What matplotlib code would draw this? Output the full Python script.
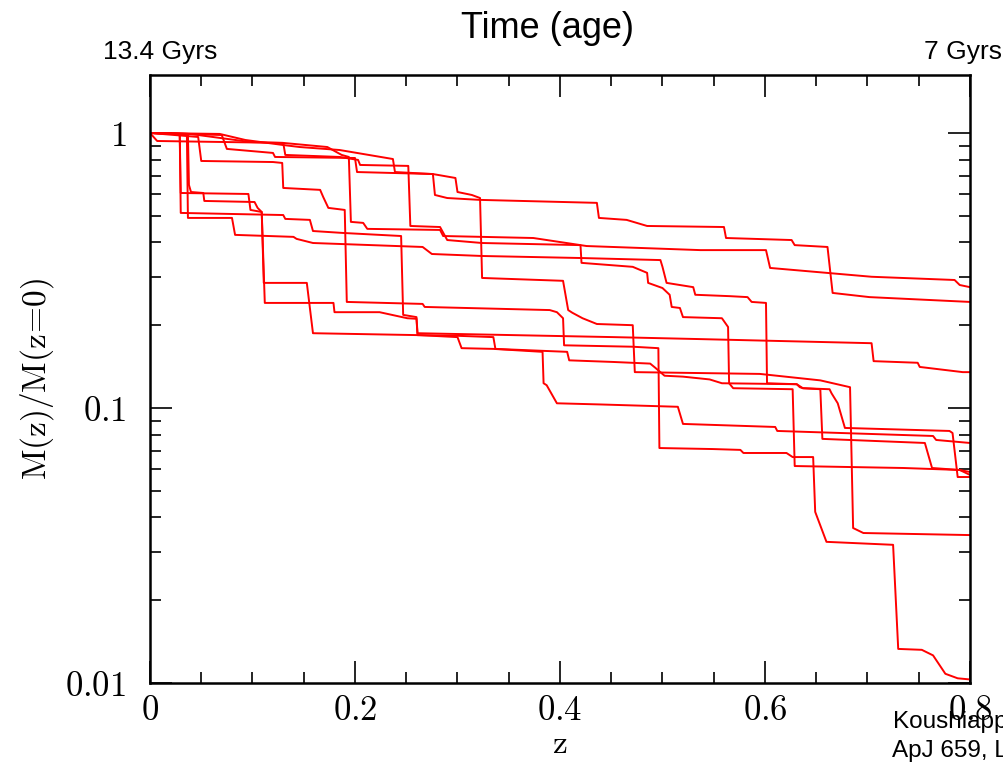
import matplotlib
matplotlib.use('Agg')
import matplotlib.pyplot as plt
from matplotlib.ticker import MultipleLocator, LogLocator, NullFormatter

plt.rcParams['mathtext.fontset'] = 'cm'

# mass accretion histories (z, M(z)/M(z=0))
z_a = [0, 0.007, 0.130, 0.173, 0.187, 0.194, 0.196, 0.208, 0.212, 0.283, 0.286, 0.374, 0.426,
       0.537, 0.601, 0.605, 0.704, 0.785, 0.790, 0.800]
m_a = [1.0, 0.935, 0.920, 0.889, 0.832, 0.818, 0.475, 0.471, 0.448, 0.444, 0.422, 0.415, 0.388,
       0.375, 0.375, 0.323, 0.300, 0.292, 0.280, 0.275]

z_b = [0, 0.068, 0.093, 0.130, 0.146, 0.185, 0.237, 0.239, 0.276, 0.278, 0.290, 0.322, 0.436,
       0.438, 0.465, 0.485, 0.560, 0.562, 0.626, 0.629, 0.661, 0.666, 0.702, 0.800]
m_b = [1.0, 0.992, 0.943, 0.904, 0.889, 0.867, 0.804, 0.721, 0.709, 0.595, 0.580, 0.571, 0.557,
       0.491, 0.483, 0.459, 0.455, 0.415, 0.408, 0.391, 0.385, 0.262, 0.253, 0.243]

z_c = [0, 0.029, 0.030, 0.130, 0.132, 0.156, 0.159, 0.188, 0.245, 0.247, 0.260, 0.261, 0.452,
       0.537, 0.704, 0.706, 0.749, 0.751, 0.793, 0.800]
m_c = [1.0, 0.992, 0.512, 0.503, 0.487, 0.483, 0.440, 0.433, 0.422, 0.218, 0.214, 0.187, 0.181,
       0.178, 0.172, 0.148, 0.146, 0.141, 0.135, 0.135]

z_d = [0, 0.029, 0.030, 0.096, 0.098, 0.109, 0.111, 0.153, 0.159, 0.263, 0.300, 0.304, 0.335,
       0.383, 0.384, 0.387, 0.397, 0.439, 0.515, 0.520, 0.610, 0.612, 0.764, 0.767, 0.800]
m_d = [1.0, 0.992, 0.605, 0.600, 0.525, 0.516, 0.285, 0.285, 0.187, 0.184, 0.181, 0.165, 0.164,
       0.160, 0.123, 0.121, 0.104, 0.103, 0.101, 0.0875, 0.0853, 0.0825, 0.0791, 0.0765, 0.0746]

z_e = [0, 0.037, 0.038, 0.040, 0.052, 0.053, 0.102, 0.105, 0.109, 0.112, 0.179, 0.180, 0.224,
       0.251, 0.260, 0.261, 0.300, 0.335, 0.337, 0.407, 0.409, 0.452, 0.488, 0.493, 0.502, 0.520,
       0.546, 0.558, 0.631, 0.634, 0.637, 0.663, 0.665, 0.671, 0.678, 0.780, 0.783, 0.788, 0.800]
m_e = [1.0, 0.992, 0.647, 0.610, 0.605, 0.566, 0.561, 0.534, 0.516, 0.241, 0.241, 0.223, 0.223,
       0.212, 0.211, 0.184, 0.183, 0.181, 0.164, 0.160, 0.149, 0.147, 0.145, 0.140, 0.131, 0.130,
       0.127, 0.123, 0.122, 0.119, 0.118, 0.117, 0.113, 0.104, 0.0846, 0.0825, 0.0811, 0.0561, 0.0561]

z_f = [0, 0.036, 0.037, 0.080, 0.083, 0.140, 0.143, 0.159, 0.266, 0.275, 0.324, 0.420, 0.498,
       0.500, 0.504, 0.530, 0.532, 0.566, 0.583, 0.587, 0.601, 0.602, 0.631, 0.637, 0.654, 0.656,
       0.756, 0.763, 0.790, 0.800]
m_f = [1.0, 0.992, 0.491, 0.491, 0.426, 0.419, 0.412, 0.398, 0.385, 0.363, 0.357, 0.351, 0.345,
       0.326, 0.285, 0.275, 0.258, 0.255, 0.253, 0.243, 0.241, 0.123, 0.122, 0.118, 0.117, 0.0772,
       0.0746, 0.0605, 0.0595, 0.0571]

z_g = [0, 0.070, 0.075, 0.120, 0.122, 0.200, 0.202, 0.276, 0.298, 0.300, 0.314, 0.322, 0.324,
       0.403, 0.408, 0.412, 0.422, 0.436, 0.471, 0.473, 0.595, 0.654, 0.683, 0.686, 0.696, 0.800]
m_g = [1.0, 0.983, 0.875, 0.846, 0.818, 0.811, 0.721, 0.709, 0.686, 0.610, 0.595, 0.580, 0.297,
       0.290, 0.227, 0.222, 0.212, 0.202, 0.200, 0.135, 0.133, 0.126, 0.119, 0.0366, 0.0351, 0.0345]

z_h = [0, 0.039, 0.098, 0.130, 0.132, 0.185, 0.203, 0.205, 0.252, 0.254, 0.283, 0.290, 0.324,
       0.420, 0.421, 0.471, 0.485, 0.486, 0.500, 0.507, 0.509, 0.517, 0.520, 0.558, 0.564, 0.565,
       0.569, 0.627, 0.629, 0.735, 0.790, 0.800]
m_h = [1.0, 0.992, 0.927, 0.920, 0.832, 0.818, 0.798, 0.765, 0.759, 0.459, 0.455, 0.408, 0.398,
       0.391, 0.337, 0.326, 0.310, 0.285, 0.273, 0.258, 0.233, 0.231, 0.214, 0.212, 0.197, 0.123,
       0.118, 0.117, 0.0615, 0.0605, 0.0595, 0.0585]

z_i = [0, 0.047, 0.050, 0.120, 0.129, 0.130, 0.166, 0.169, 0.174, 0.190, 0.192, 0.266, 0.268,
       0.390, 0.397, 0.403, 0.404, 0.471, 0.496, 0.497, 0.549, 0.576, 0.579, 0.621, 0.627, 0.647,
       0.649, 0.660, 0.725, 0.730, 0.753, 0.764, 0.776, 0.788, 0.800]
m_i = [1.0, 0.967, 0.791, 0.784, 0.778, 0.631, 0.621, 0.585, 0.534, 0.525, 0.243, 0.239, 0.233,
       0.227, 0.223, 0.212, 0.169, 0.167, 0.165, 0.0715, 0.0709, 0.0704, 0.0686, 0.0686, 0.0663,
       0.0663, 0.0419, 0.0326, 0.0318, 0.0133, 0.0132, 0.0126, 0.0108, 0.0104, 0.0103]

histories = [(z_a, m_a), (z_b, m_b), (z_c, m_c), (z_d, m_d), (z_e, m_e),
             (z_f, m_f), (z_g, m_g), (z_h, m_h), (z_i, m_i)]

xticks = [0, 0.2, 0.4, 0.6, 0.8]
xticklabels = ['$0$', '$0.2$', '$0.4$', '$0.6$', '$0.8$']
yticks = [0.01, 0.1, 1]
yticklabels = ['$0.01$', '$0.1$', '$1$']

fig = plt.figure(figsize=(10.04, 7.62), dpi=100)
ax = fig.add_axes([0.1494, 0.1037, 0.8167, 0.7979])

for z, m in histories:
    ax.plot(z, m, color='#ff0000', linewidth=1.4)

ax.set_yscale('log')
ax.set_xlim(0, 0.8)
ax.set_ylim(0.01, 1.625)

ax.set_xticks(xticks)
ax.set_xticklabels(xticklabels)
ax.xaxis.set_minor_locator(MultipleLocator(0.05))
ax.set_yticks(yticks)
ax.set_yticklabels(yticklabels)
ax.yaxis.set_minor_locator(LogLocator(base=10, subs=range(2, 10)))
ax.yaxis.set_minor_formatter(NullFormatter())

ax.tick_params(which='both', direction='in', top=True, right=True, width=1.2)
ax.tick_params(which='major', length=16, labelsize=25)
ax.tick_params(axis='x', which='major', pad=7)
ax.tick_params(axis='y', which='major', pad=17)
ax.tick_params(which='minor', length=8)
for s in ax.spines.values():
    s.set_linewidth(1.8)

ax.set_xlabel(r'$\mathrm{z}$', fontsize=24, labelpad=0)
ax.set_ylabel(r'$\mathrm{M(z)/M(z\!=\!0)}$', fontsize=24, labelpad=7)

sans = ['Liberation Sans', 'DejaVu Sans']
fig.text(0.545, 0.962, 'Time (age)', ha='center', va='center', fontsize=26, family=sans)
fig.text(0.160, 0.932, '13.4 Gyrs', ha='center', va='center', fontsize=19, family=sans)
fig.text(0.959, 0.932, '7 Gyrs', ha='center', va='center', fontsize=19, family=sans)
fig.text(0.889, 0.052, 'Koushiappas', ha='left', va='center', fontsize=17.5, family=sans)
fig.text(0.888, 0.015, 'ApJ 659, L1', ha='left', va='center', fontsize=17.5, family=sans)

fig.savefig('out.png', dpi=100)
